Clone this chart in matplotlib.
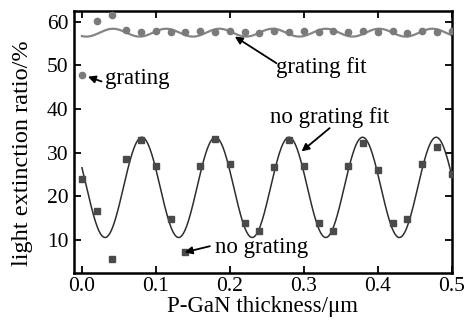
import matplotlib
matplotlib.use('Agg')
import matplotlib.pyplot as plt
import numpy as np

plt.rcParams['font.family'] = ['Liberation Serif', 'DejaVu Serif']

# thickness in um, step 0.02
thick = [0.00, 0.02, 0.04, 0.06, 0.08, 0.10, 0.12, 0.14, 0.16, 0.18, 0.20, 0.22, 0.24,
         0.26, 0.28, 0.30, 0.32, 0.34, 0.36, 0.38, 0.40, 0.42, 0.44, 0.46, 0.48, 0.50]

# grating (circles)
grating = [47.8, 60.2, 61.6, 58.2, 57.6, 57.8, 57.6, 57.6, 57.8, 57.6, 57.8, 57.6, 57.4,
           57.8, 57.6, 57.8, 57.6, 57.8, 57.6, 57.8, 57.6, 57.8, 57.4, 57.8, 57.6, 57.8]

# no grating (squares)
no_grating = [24.0, 16.5, 5.6, 28.4, 32.8, 26.8, 14.8, 7.1, 26.8, 33.0, 27.3, 13.8, 11.9,
              26.7, 32.8, 26.8, 13.8, 11.9, 26.9, 32.1, 26.1, 13.8, 14.8, 27.4, 31.3, 25.0]

# fit parameters: offset, amplitude, period, position of a peak
ng_fit = (22.0, 11.5, 0.0995, 0.081)
g_fit = (57.5, 0.9, 0.072, 0.042)

xs = np.linspace(0, 0.5, 600)
def fit_curve(p):
    off, amp, per, x0 = p
    return off + amp * np.cos(2 * np.pi * (xs - x0) / per)

fig = plt.figure(figsize=(4.65, 3.2), dpi=100)
ax = fig.add_axes([0.159, 0.147, 0.813, 0.819])

ax.plot(xs, fit_curve(g_fit), color='#858585', lw=1.6, zorder=2)
ax.plot(thick, grating, 'o', color='#7a7a7a', ms=4.5, zorder=3)
ax.plot(xs, fit_curve(ng_fit), color='#2e2e2e', lw=1.1, zorder=2)
ax.plot(thick, no_grating, 's', color='#4a4a4a', ms=4, zorder=3)

ax.set_xlim(-0.0108, 0.5004)
ax.set_ylim(2.36, 62.5)
ax.set_xticks([0.0, 0.1, 0.2, 0.3, 0.4, 0.5])
ax.set_xticklabels(['0.0', '0.1', '0.2', '0.3', '0.4', '0.5'])
ax.set_yticks([10, 20, 30, 40, 50, 60])
ax.tick_params(direction='in', top=True, right=True, length=5, width=1.3,
               labelsize=15.5)
ax.tick_params(axis='x', pad=3)
ax.tick_params(axis='y', pad=4)
for s in ax.spines.values():
    s.set_linewidth(1.8)

ax.set_xlabel('P-GaN thickness/μm', fontsize=16.5, labelpad=0)
ax.set_ylabel('light extinction ratio/%', fontsize=17.5)
ax.yaxis.set_label_coords(-0.108, 0.456)

tsize = 16.5
arr = dict(arrowstyle='-|>', color='black', lw=1.3, mutation_scale=11,
           shrinkA=0, shrinkB=0)

ax.text(0.031, 46.9, 'grating', fontsize=tsize, va='center', ha='left')
ax.annotate('', xy=(0.0081, 47.4), xytext=(0.0266, 46.3), arrowprops=arr)

ax.text(0.263, 49.4, 'grating fit', fontsize=tsize, va='center', ha='left')
ax.annotate('', xy=(0.2068, 56.6), xytext=(0.263, 50.5), arrowprops=arr)

ax.text(0.254, 38.0, 'no grating fit', fontsize=tsize, va='center', ha='left')
ax.annotate('', xy=(0.297, 30.25), xytext=(0.335, 35.6), arrowprops=arr)

ax.text(0.18, 8.17, 'no grating', fontsize=tsize, va='center', ha='left')
ax.annotate('', xy=(0.139, 7.1), xytext=(0.173, 8.5), arrowprops=arr)

fig.savefig('out.png', dpi=100)
